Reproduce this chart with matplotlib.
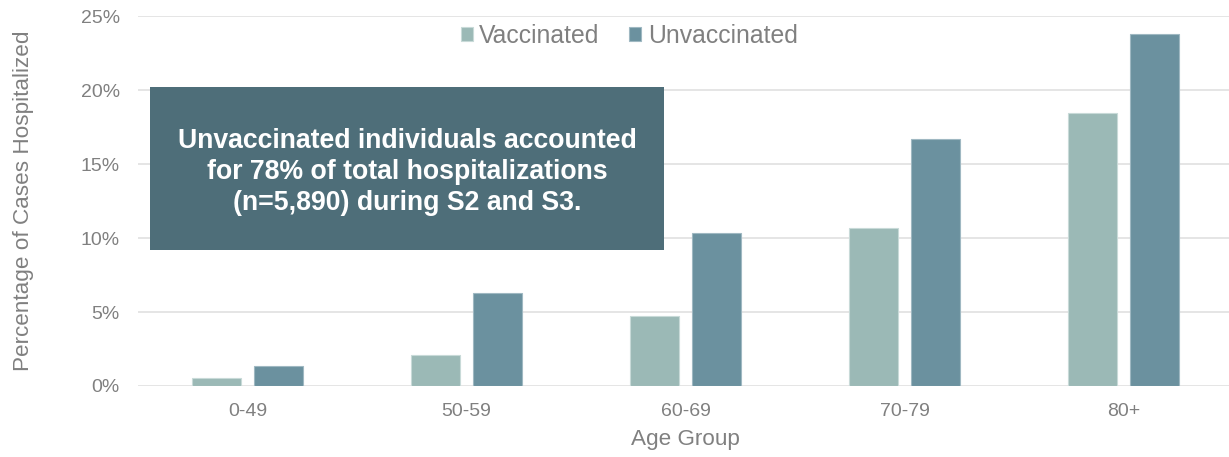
import numpy as np
import matplotlib.pyplot as plt
from matplotlib.patches import Rectangle
from matplotlib.ticker import FuncFormatter

plt.rcParams['font.family'] = ['Liberation Sans', 'DejaVu Sans']

# Share of cases hospitalized by age group (%)
age_groups = ['0-49', '50-59', '60-69', '70-79', '80+']
vaccinated = [0.52, 2.07, 4.76, 10.67, 18.45]
unvaccinated = [1.37, 6.27, 10.33, 16.7, 23.8]

note = ('Unvaccinated individuals accounted\n'
        'for 78% of total hospitalizations\n'
        '(n=5,890) during S2 and S3.')

vacc_color = '#9BB9B6'
unvacc_color = '#6B919F'
box_color = '#4E6E79'
text_gray = '#808080'

fig = plt.figure(figsize=(12.29, 4.57), dpi=100)
ax = fig.add_axes([0.1123, 0.1554, 0.891, 0.8085])

x = np.arange(len(age_groups))
w = 0.22
off = 0.1416
ax.bar(x - off, vaccinated, w, color=vacc_color, edgecolor='#C8DAD8',
       linewidth=0.8, label='Vaccinated', zorder=3)
ax.bar(x + off, unvaccinated, w, color=unvacc_color, edgecolor='#9FB8C2',
       linewidth=0.8, label='Unvaccinated', zorder=3)

ax.set_xlim(-0.5, len(age_groups) - 0.5)
ax.set_ylim(0, 25)
ax.set_yticks([0, 5, 10, 15, 20, 25])
ax.yaxis.set_major_formatter(FuncFormatter(lambda v, p: f'{v:.0f}%'))
ax.set_xticks(x)
ax.set_xticklabels(age_groups)
ax.grid(axis='y', color='#E0E0E0', linewidth=1.2, zorder=0)
ax.tick_params(axis='both', length=0, labelsize=14, colors=text_gray)
ax.tick_params(axis='y', pad=13)
ax.tick_params(axis='x', pad=12)
for s in ax.spines.values():
    s.set_visible(False)

ax.set_xlabel('Age Group', fontsize=16.2, color=text_gray)
ax.set_ylabel('Percentage of Cases Hospitalized', fontsize=16.2, color=text_gray)
ax.xaxis.set_label_coords(0.5, -0.117)
ax.yaxis.set_label_coords(-0.0953, 0.5)

fig.legend(loc='center', bbox_to_anchor=(629 / 1229, 1 - 36 / 457),
           ncol=2, frameon=False, fontsize=17.8, labelcolor=text_gray,
           handlelength=0.5, handleheight=0.5, handletextpad=0.25,
           columnspacing=1.2)

# Callout box with summary note
W, H = 1229, 457
fig.patches.append(Rectangle((150 / W, 1 - 250 / H), (664 - 150) / W, (250 - 87) / H,
                             transform=fig.transFigure, facecolor=box_color,
                             edgecolor='none', zorder=5))
fig.text(407 / W, 1 - 172 / H, note, ha='center', va='center', color='white',
         fontsize=19.2, fontweight='bold', linespacing=1.25, zorder=6)

fig.savefig('out.png', dpi=100)
